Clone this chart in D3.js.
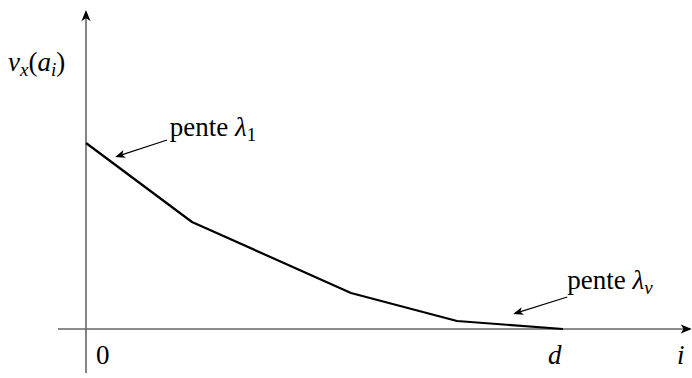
<html>
<head>
<script src="https://d3js.org/d3.v7.min.js"></script>
</head>
<body style="margin:0; background:#fff">
<svg id="viz" width="692" height="378" font-family="Liberation Serif"></svg>
<script>
// piecewise linear v_x(a_i) against i, breakpoints
var iVals = [0, 2, 5, 7, 9];
var vVals = [18.6, 10.7, 3.6, 0.8, 0];
var dVal = 9;

// axis extents (data units)
var xAxisRange = [-0.53, 11.43];
var yAxisRange = [-4.4, 31.9];

// annotation arrows: [tailI, tailV, tipI, tipV]
var arrowLambda1 = [1.53, 18.9, 0.55, 17.2];
var arrowLambdaNu = [9.08, 3.2, 8.06, 1.5];

var svg = d3.select("#viz");

var x = d3.scaleLinear().domain([0, dVal]).range([86, 563]);
var y = d3.scaleLinear().domain([0, 10]).range([329, 229]);

// arrow = line plus a small filled head drawn at the tip
function arrow(x1, y1, x2, y2, color, width, len, half) {
  var a = Math.atan2(y2 - y1, x2 - x1);
  var bx = x2 - len * Math.cos(a), by = y2 - len * Math.sin(a);
  svg.append("line")
    .attr("x1", x1).attr("y1", y1)
    .attr("x2", x2 - 2 * Math.cos(a)).attr("y2", y2 - 2 * Math.sin(a))
    .attr("stroke", color).attr("stroke-width", width);
  var px = -Math.sin(a) * half, py = Math.cos(a) * half;
  var nx = x2 - len * 0.75 * Math.cos(a), ny = y2 - len * 0.75 * Math.sin(a);
  svg.append("path")
    .attr("d", "M" + x2 + "," + y2 + "L" + (bx + px) + "," + (by + py) +
      "L" + nx + "," + ny + "L" + (bx - px) + "," + (by - py) + "Z")
    .attr("fill", "#000");
}

// axes
arrow(x(xAxisRange[0]), y(0), x(xAxisRange[1]), y(0), "#666", 1.6, 11, 4.5);
arrow(x(0), y(yAxisRange[0]), x(0), y(yAxisRange[1]), "#666", 1.6, 11, 4.5);

// the curve
var line = d3.line()
  .x(function(d, k) { return x(iVals[k]); })
  .y(function(d) { return y(d); });
svg.append("path")
  .datum(vVals)
  .attr("d", line)
  .attr("fill", "none")
  .attr("stroke", "#000")
  .attr("stroke-width", 2.2)
  .attr("stroke-linejoin", "round");

// annotation arrows
[arrowLambda1, arrowLambdaNu].forEach(function(a) {
  arrow(x(a[0]), y(a[1]), x(a[2]), y(a[3]), "#000", 1.2, 10, 4);
});

// labels
function label(px, py, parts) {
  var t = svg.append("text").attr("x", px).attr("y", py)
    .attr("font-family", "Liberation Serif")
    .attr("font-size", 27)
    .attr("fill", "#000");
  parts.forEach(function(p) {
    var s = t.append("tspan").text(p.t);
    if (p.it) s.attr("font-style", "italic");
    if (p.sub) s.attr("font-size", 19).attr("dy", 5);
    if (p.back) s.attr("dy", -5);
  });
  return t;
}

label(8, 71, [
  {t: "v", it: 1}, {t: "x", it: 1, sub: 1},
  {t: "(", back: 1}, {t: "a", it: 1}, {t: "i", it: 1, sub: 1}, {t: ")", back: 1}
]);
label(x(1.58), 136, [{t: "pente "}, {t: "λ", it: 1}, {t: "1", sub: 1}]);
label(x(9.08), 289, [{t: "pente "}, {t: "λ", it: 1}, {t: "ν", it: 1, sub: 1}]);

label(x(0) + 10, 364, [{t: "0"}]);
label(x(dVal) - 15, 364, [{t: "d", it: 1}]);
label(x(11.15), 364, [{t: "i", it: 1}]);
</script>
</body>
</html>
